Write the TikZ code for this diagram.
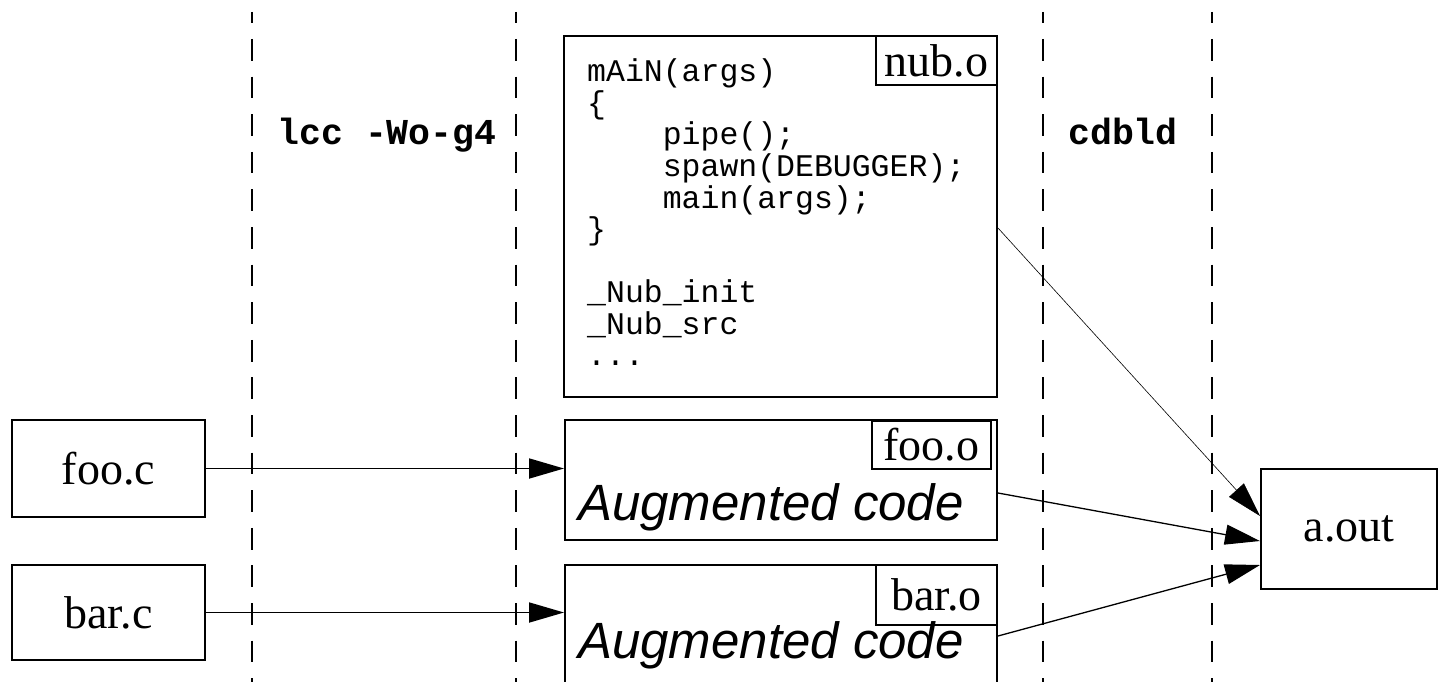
\documentclass[tikz,border=0pt]{standalone}
\usepackage{fontspec}
\setmainfont{Liberation Serif}
\newfontfamily\codefont{Liberation Mono}
\newfontfamily\hvfont{Liberation Sans}
\usetikzlibrary{arrows.meta,calc}
\begin{document}
\begin{tikzpicture}[x=1pt,y=-1pt,
  box/.style={draw,line width=2pt,inner sep=0pt,rectangle},
  lbl/.style={font=\fontsize{46}{50}\selectfont},
  code/.style={font=\fontsize{31.5}{31.5}\selectfont\codefont,inner sep=0pt,anchor=base west},
  tool/.style={font=\fontsize{36.5}{36.5}\selectfont\codefont\bfseries,inner sep=0pt,anchor=base},
  aug/.style={font=\fontsize{51}{54}\selectfont\hvfont\itshape,inner sep=0pt,anchor=base},
  sep/.style={line width=2pt,dash pattern=on 21.7pt off 15.9pt,dash phase=10.6pt},
  tip/.style={-{Triangle[length=35pt,width=20pt]}},
]
\clip (0,0) rectangle (1438,682);
% phase separators
\foreach \x/\n in {252/s1,516/s2,1043/s3,1212/s4}{
  \coordinate (\n t) at (\x,12);
  \coordinate (\n b) at (\x,690);
  \draw[sep] (\n t) -- (\n b);
}
\node[tool] (lcc) at (387,145) {lcc -Wo-g4};
\node[tool] (cdbld) at (1123,145) {cdbld};

% sources
\node[box,lbl,minimum width=193pt,minimum height=97pt,anchor=north west] (fooc) at (11,419) {foo.c};
\node[box,lbl,minimum width=193pt,minimum height=95pt,anchor=north west] (barc) at (11,564) {bar.c};

% nub.o
\node[box,minimum width=433pt,minimum height=361pt,anchor=north west] (nub) at (563,35) {};
\node[box,lbl,minimum width=121pt,minimum height=49pt,anchor=north east] (nublbl) at (nub.north east) {nub.o};
\node[code] (c1) at (587,82) {mAiN(args)};
\node[code] (c2) at (587,113.5) {\{};
\node[code] (c3) at (587,145) {\hphantom{0000}pipe();};
\node[code] (c4) at (587,176.5) {\hphantom{0000}spawn(DEBUGGER);};
\node[code] (c5) at (587,208) {\hphantom{0000}main(args);};
\node[code] (c6) at (587,239.5) {\}};
\node[code] (c7) at (587,302.5) {\_Nub\_init};
\node[code] (c8) at (587,334) {\_Nub\_src};
\node[code] (c9) at (587,365.5) {...};

% foo.o
\node[box,minimum width=432pt,minimum height=120pt,anchor=north west] (fooo) at (564,419) {};
\node[box,lbl,minimum width=119pt,minimum height=48pt,anchor=north east] (foolbl) at (992,420) {foo.o};
\node[aug] (fooaug) at (771,520) {Augmented code};

% bar.o
\node[box,minimum width=432pt,minimum height=160pt,anchor=north west] (baro) at (564,564) {};
\node[box,lbl,minimum width=121pt,minimum height=60pt,anchor=north east] (barlbl) at (baro.north east) {bar.o};
\node[aug] (baraug) at (771,658) {Augmented code};

% a.out
\node[box,lbl,minimum width=176pt,minimum height=120pt,anchor=north west] (aout) at (1260,468) {a.out};

% connectors
\draw[tip,line width=1.8pt] (fooc.east) -- (fooo.west |- fooc.east);
\draw[tip,line width=1.8pt] (barc.east) -- (baro.west |- barc.east);
\draw[tip,line width=0.6pt] ([yshift=-11.5pt]nub.east) -- ([yshift=13pt]aout.west);
\draw[tip,line width=1.3pt] ([yshift=-13pt]fooo.east) -- ([yshift=-12pt]aout.west);
\draw[tip,line width=1.3pt] ([yshift=-72pt]baro.north east) -- ([yshift=-36pt]aout.west);
\end{tikzpicture}
\end{document}
